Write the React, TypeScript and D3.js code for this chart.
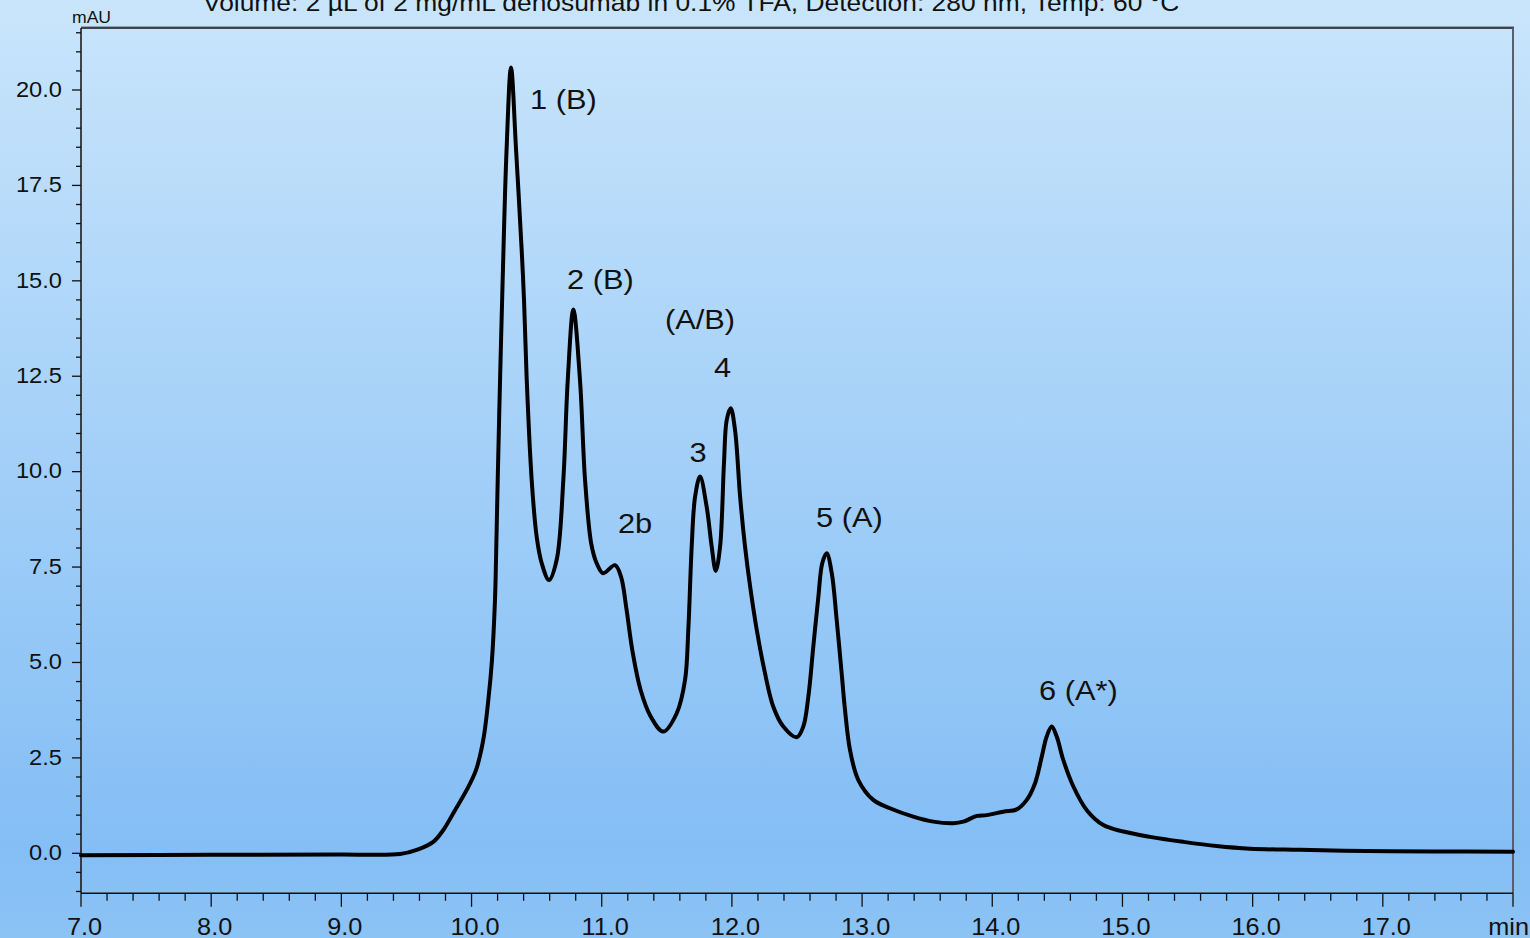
import React from "react";
import * as d3 from "d3";

const titleText = "Volume: 2 µL of 2 mg/mL denosumab in 0.1% TFA, Detection: 280 nm, Temp: 60 °C";
const yUnit = "mAU";
const xUnit = "min";

const retentionTime = [
  7.0, 8.0, 9.0, 9.45, 9.579, 9.706, 9.783, 9.873, 9.963, 10.034, 10.09, 10.129, 10.157, 10.18, 10.188,
  10.201, 10.219, 10.239, 10.269, 10.303, 10.342, 10.385, 10.403, 10.424, 10.462, 10.5, 10.539, 10.595,
  10.654, 10.705, 10.739, 10.782, 10.833, 10.872, 10.92, 10.961, 11.01, 11.102, 11.148, 11.19, 11.236,
  11.297, 11.374, 11.473, 11.576, 11.64, 11.665, 11.691, 11.717, 11.755, 11.806, 11.845,
  11.876, 11.909, 11.939, 11.96, 11.991, 12.024, 12.063, 12.101, 12.14, 12.191, 12.254, 12.318,
  12.395, 12.498, 12.548, 12.587, 12.625, 12.664, 12.694, 12.728, 12.767, 12.805, 12.843, 12.869,
  12.907, 12.971, 13.086, 13.214, 13.393, 13.547, 13.701, 13.778, 13.881, 13.957, 14.085, 14.188,
  14.265, 14.328, 14.38, 14.418, 14.457, 14.495, 14.546, 14.623, 14.726, 14.853, 15.007, 15.212,
  15.468, 15.724, 15.98, 16.364, 16.876, 17.388, 18.0,
];

const absorbance = [
  -0.05, -0.04, -0.03, -0.02, 0.09, 0.3, 0.61, 1.13, 1.66, 2.18, 2.97, 4.02, 5.07, 6.64, 7.69,
  9.78, 12.4, 15.02, 18.43, 20.59, 18.43, 15.81, 14.5, 12.4, 9.78, 8.3, 7.6, 7.16,
  7.69, 9.78, 12.4, 14.25, 12.4, 9.78, 8.1, 7.6, 7.34, 7.55, 7.25, 6.4, 5.3,
  4.3, 3.6, 3.19, 3.67, 4.54, 5.85, 8.03, 9.34, 9.87, 9.08, 8.03,
  7.4, 8.03, 10.22, 11.35, 11.66, 11.09, 9.34, 8.03, 6.99, 5.85, 4.72, 3.84,
  3.32, 3.04, 3.32, 4.1, 5.41, 6.72, 7.6, 7.86, 7.34, 6.11, 4.72, 3.75,
  2.71, 1.92, 1.4, 1.18, 0.96, 0.83, 0.79, 0.83, 0.98, 1.0, 1.09, 1.15,
  1.4, 1.83, 2.53, 3.06, 3.32, 3.06, 2.44, 1.75, 1.13, 0.74, 0.57, 0.43,
  0.3, 0.19, 0.12, 0.09, 0.06, 0.05, 0.04,
];

const peakLabelText = ["1 (B)", "2 (B)", "(A/B)", "4", "3", "2b", "5 (A)", "6 (A*)"];
const peakLabelTime = [10.449, 10.733, 11.486, 11.862, 11.674, 11.125, 12.646, 14.359];
const peakLabelValue = [19.49, 14.78, 13.73, 12.49, 10.24, 8.38, 8.56, 4.02];

const yMajorTicks = [0, 2.5, 5, 7.5, 10, 12.5, 15, 17.5, 20];
const xMajorTicks = [7, 8, 9, 10, 11, 12, 13, 14, 15, 16, 17, 18];

const W = 1530;
const H = 938;
const FONT = "'Liberation Sans', Arial, sans-serif";

export default function App() {
  const x = d3.scaleLinear().domain([7, 18]).range([81, 1513]);
  const y = d3.scaleLinear().domain([0, 20]).range([853.3, 90]);
  const top = 28;
  const bottom = 893.3;
  const left = 81;
  const right = 1513;

  const pts: [number, number][] = retentionTime.map((t, i) => [t, absorbance[i]]);
  const line = d3
    .line<[number, number]>()
    .x((d) => x(d[0]))
    .y((d) => y(d[1]))
    .curve(d3.curveCatmullRom.alpha(0.5));

  const yMinor = d3.range(-1.0, 21.51, 0.5).filter((v) => Math.abs(v / 2.5 - Math.round(v / 2.5)) > 1e-6);
  const xMinor = d3.range(7, 18.001, 0.2).filter((v) => Math.abs(v - Math.round(v)) > 1e-6);

  return (
    <svg width={W} height={H} style={{ position: "absolute", left: 0, top: 0 }} fontFamily={FONT}>
      <defs>
        <linearGradient id="bg" x1="0" y1="0" x2="0" y2="1">
          <stop offset="0" stopColor="#c9e5fb" />
          <stop offset="0.5" stopColor="#a2cff8" />
          <stop offset="0.9" stopColor="#84bef5" />
          <stop offset="1" stopColor="#8bc3f5" />
        </linearGradient>
      </defs>
      <rect x={0} y={0} width={W} height={H} fill="url(#bg)" />

      {/* title */}
      <text transform={`translate(203,11) scale(1.1,1)`} fontSize={24} fill="#111">
        {titleText}
      </text>

      {/* frame */}
      <line x1={left} x2={right + 1} y1={top - 1.5} y2={top - 1.5} stroke="#8da3b8" strokeWidth={1} />
      <line x1={left} x2={right + 1} y1={top} y2={top} stroke="#111" strokeWidth={1.5} />
      <line x1={right} x2={right} y1={top} y2={bottom} stroke="#56606c" strokeWidth={2} />
      <line x1={left} x2={left} y1={top} y2={bottom} stroke="#111" strokeWidth={1.5} />
      <line x1={left} x2={right} y1={bottom} y2={bottom} stroke="#111" strokeWidth={1.5} />

      {/* y ticks */}
      {yMinor.map((v) => (
        <line key={"ym" + v} x1={left - 5} x2={left} y1={y(v)} y2={y(v)} stroke="#111" strokeWidth={1.3} />
      ))}
      {yMajorTicks.map((v) => (
        <g key={"yM" + v}>
          <line x1={left - 9} x2={left} y1={y(v)} y2={y(v)} stroke="#111" strokeWidth={1.3} />
          <text transform={`translate(62,${y(v) + 6.8}) scale(1.1,1)`} fontSize={21.5} textAnchor="end" fill="#111">
            {v.toFixed(1)}
          </text>
        </g>
      ))}
      <text transform={`translate(72,22.5) scale(1.1,1)`} fontSize={16} fill="#111">
        {yUnit}
      </text>

      {/* x ticks */}
      {xMinor.map((v) => (
        <line key={"xm" + v} x1={x(v)} x2={x(v)} y1={bottom} y2={bottom + 7.5} stroke="#111" strokeWidth={1.3} />
      ))}
      {xMajorTicks.map((v) => (
        <g key={"xM" + v}>
          <line x1={x(v)} x2={x(v)} y1={bottom} y2={bottom + 13.5} stroke="#111" strokeWidth={1.3} />
          {v < 18 ? (
            <text transform={`translate(${x(v) + 3.5},935) scale(1.1,1)`} fontSize={23} textAnchor="middle" fill="#111">
              {v.toFixed(1)}
            </text>
          ) : (
            <text transform={`translate(1529,935) scale(1.1,1)`} fontSize={23} textAnchor="end" fill="#111">
              {xUnit}
            </text>
          )}
        </g>
      ))}

      {/* trace */}
      <path d={line(pts) || ""} fill="none" stroke="#000" strokeWidth={4} strokeLinejoin="round" strokeLinecap="round" />

      {/* peak labels */}
      {peakLabelText.map((s, i) => (
        <text
          key={"pl" + i}
          transform={`translate(${x(peakLabelTime[i])},${y(peakLabelValue[i])}) scale(1.1,1)`}
          fontSize={28}
          fill="#111"
        >
          {s}
        </text>
      ))}
    </svg>
  );
}
